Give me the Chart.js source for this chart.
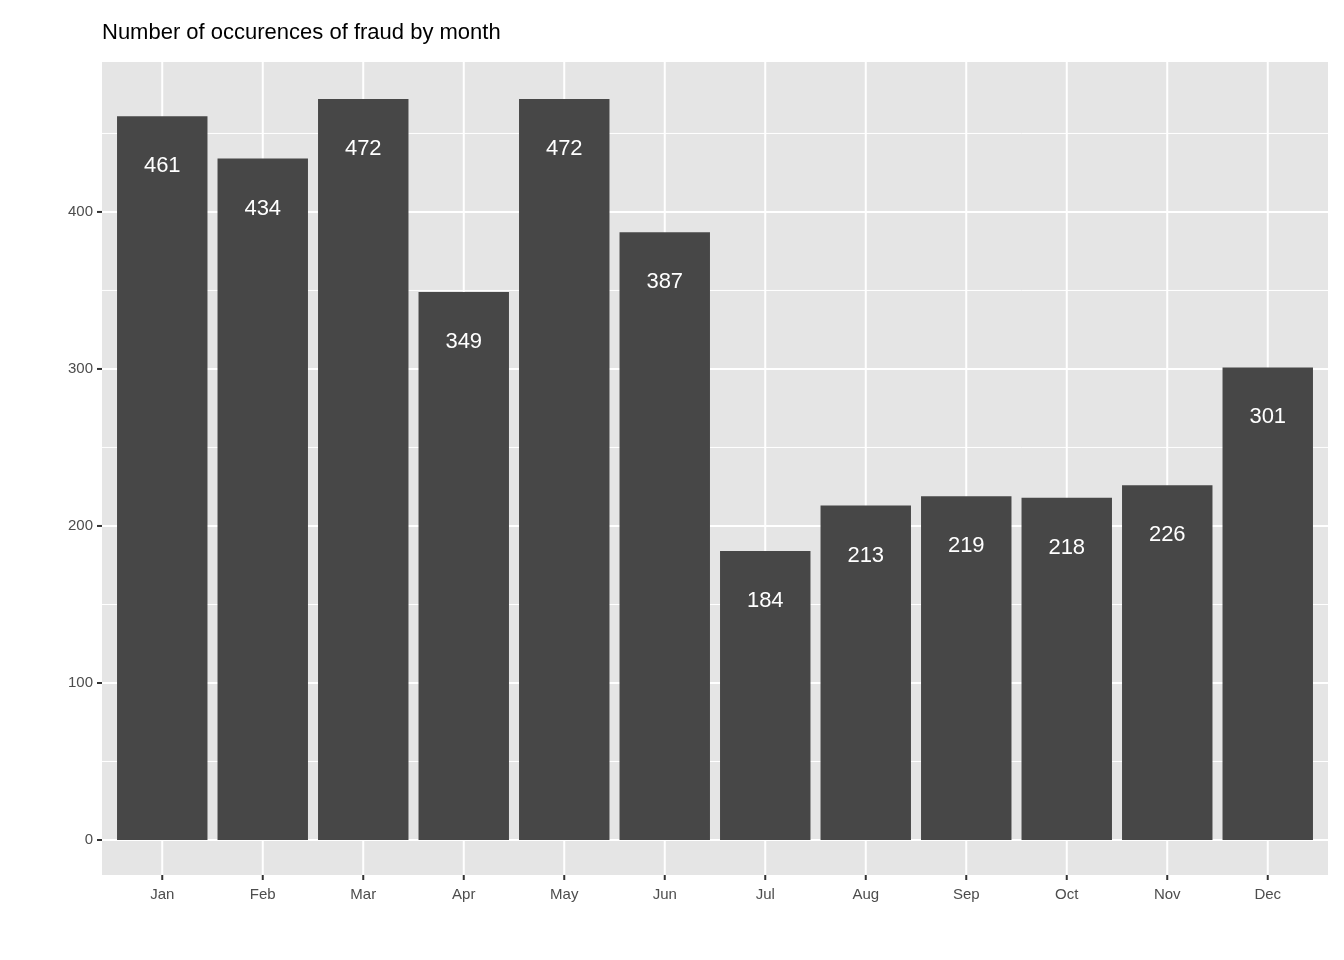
<!DOCTYPE html>
<html><head><meta charset="utf-8">
<script src="https://cdn.jsdelivr.net/npm/chart.js@4"></script>
<style>html,body{margin:0;padding:0;background:#fff}#w{width:1344px;height:960px}</style>
</head><body><div id="w"><canvas id="c"></canvas></div>
<script>
const months = ['Jan','Feb','Mar','Apr','May','Jun','Jul','Aug','Sep','Oct','Nov','Dec'];
const counts = [461,434,472,349,472,387,184,213,219,218,226,301];
const yTicks = [0,100,200,300,400];
const yMinor = [50,150,250,350,450];
const title = 'Number of occurences of fraud by month';
const FONT = '"Liberation Sans", Arial, sans-serif';

const plugin = {
  id: 'gg',
  beforeDatasetsDraw(chart) {
    const {ctx, chartArea: a, scales: {x, y}} = chart;
    const L = a.left - 10, R = a.right + 10;
    ctx.save();
    ctx.fillStyle = '#e5e5e5';
    ctx.fillRect(L, a.top, R - L, a.bottom - a.top);
    ctx.strokeStyle = '#fff';
    ctx.lineWidth = 1;
    yMinor.forEach(v => { const p = y.getPixelForValue(v); ctx.beginPath(); ctx.moveTo(L, p); ctx.lineTo(R, p); ctx.stroke(); });
    ctx.lineWidth = 2;
    yTicks.forEach(v => { const p = y.getPixelForValue(v); ctx.beginPath(); ctx.moveTo(L, p); ctx.lineTo(R, p); ctx.stroke(); });
    months.forEach((m, i) => { const p = x.getPixelForValue(i); ctx.beginPath(); ctx.moveTo(p, a.top); ctx.lineTo(p, a.bottom); ctx.stroke(); });
    // ticks & labels
    ctx.strokeStyle = '#333'; ctx.fillStyle = '#4d4d4d';
    ctx.font = '15px ' + FONT;
    ctx.textAlign = 'right'; ctx.textBaseline = 'middle';
    yTicks.forEach(v => { const p = y.getPixelForValue(v); ctx.beginPath(); ctx.moveTo(L - 5, p); ctx.lineTo(L, p); ctx.stroke(); ctx.fillText(String(v), L - 9, p); });
    ctx.textAlign = 'center'; ctx.textBaseline = 'top';
    months.forEach((m, i) => { const p = x.getPixelForValue(i); ctx.beginPath(); ctx.moveTo(p, a.bottom); ctx.lineTo(p, a.bottom + 5); ctx.stroke(); ctx.fillText(m, p, a.bottom + 12); });
    ctx.fillStyle = '#000'; ctx.textAlign = 'left'; ctx.textBaseline = 'alphabetic';
    ctx.font = '22px ' + FONT;
    ctx.fillText(title, 102, 39);
    ctx.restore();
  },
  afterDatasetsDraw(chart) {
    const {ctx, scales: {x, y}} = chart;
    ctx.save();
    ctx.fillStyle = '#fff'; ctx.font = '22px ' + FONT;
    ctx.textAlign = 'center'; ctx.textBaseline = 'middle';
    counts.forEach((v, i) => ctx.fillText(String(v), x.getPixelForValue(i), y.getPixelForValue(v) + 50));
    ctx.restore();
  }
};

new Chart(document.getElementById('c'), {
  type: 'bar',
  data: { labels: months, datasets: [{ data: counts, backgroundColor: '#474747', barPercentage: 0.9, categoryPercentage: 1 }] },
  options: {
    responsive: true, maintainAspectRatio: false, animation: false,
    layout: { padding: { left: 112, right: 26, top: 62, bottom: 85 } },
    plugins: { legend: { display: false }, tooltip: { enabled: false } },
    scales: {
      x: { display: false, offset: true },
      y: { display: false, min: -22.3, max: 495.5 }
    }
  },
  plugins: [plugin]
});
</script></body></html>
